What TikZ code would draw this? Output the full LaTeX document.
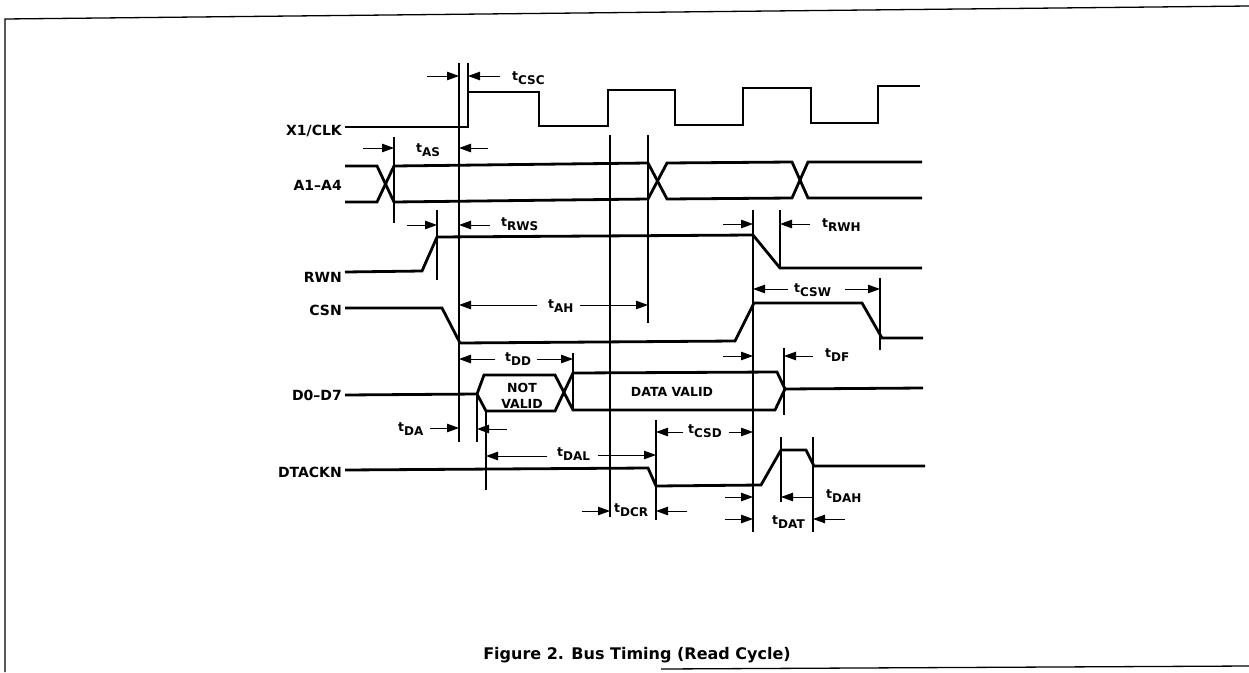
\documentclass[tikz,border=0pt]{standalone}
\usepackage{fontspec}
\setmainfont{DejaVu Sans}
\usetikzlibrary{arrows.meta}
\newcommand\tsub[1]{{\fontsize{12.5}{14}\selectfont\bfseries t}\raisebox{-4.5pt}{\fontsize{12}{13}\selectfont\bfseries #1}}
\begin{document}
\begin{tikzpicture}[x=1pt,y=-1pt,
  sig/.style={line width=2.8pt},
  refl/.style={line width=1.1pt},
  dim/.style={line width=0.9pt,-{Triangle[length=12pt,width=8.5pt]}},
  siglab/.style={anchor=base east,inner sep=0pt,font=\fontsize{14}{16}\selectfont\bfseries},
  tlab/.style={anchor=base west,inner sep=0pt},
  boxlab/.style={anchor=base,inner sep=0pt,font=\fontsize{12.5}{14}\selectfont\bfseries},
  frame/.style={line width=1.3pt}]
\useasboundingbox (0,0) rectangle (1249,672);
% frame
\draw[frame] (5,672) -- (5,19) -- (1249,6);
\draw[frame] (661,669) -- (1249,666);
% signal labels
\node[siglab] (lclk) at (342,135) {X1/CLK};
\node[siglab] (laddr) at (342,190) {A1–A4};
\node[siglab] (lrwn) at (342,282) {RWN};
\node[siglab] (lcsn) at (342,315) {CSN};
\node[siglab] (ldata) at (342,400) {D0–D7};
\node[siglab] (ldtack) at (342,477) {DTACKN};
% waveforms
\draw[sig] (345,127) -- (468,127) -- (468,92) -- (539,92) -- (539,126) -- (608,126) -- (608,90) -- (675,90) -- (675,125) -- (743,125) -- (743,88) -- (811,88) -- (811,123) -- (878,123) -- (878,86) -- (920,86);
\draw[sig] (345,166) -- (377,166) -- (394,202) -- (648,199) -- (667,163) -- (792,162) -- (808,198) -- (922,198);
\draw[sig] (345,202) -- (377,202) -- (394,166) -- (648,163) -- (667,199) -- (792,198) -- (808,162) -- (922,162);
\draw[sig] (345,272) -- (422,271) -- (437,237) -- (753,235) -- (780,268) -- (922,268);
\draw[sig] (345,308) -- (442,308) -- (460,343) -- (735,341) -- (754,303) -- (862,303) -- (882,338) -- (923,338);
\draw[sig] (345,395) -- (477,394) -- (484,375) -- (555,375) -- (573,410) -- (775,410) -- (785,389) -- (923,388);
\draw[sig] (477,394) -- (486,411) -- (555,411) -- (573,373) -- (777,372) -- (785,389);
\draw[sig] (345,470) -- (648,468) -- (656,486) -- (761,485) -- (781,450) -- (806,450) -- (814,466) -- (925,466);
% reference lines
\draw[refl] (459,63) -- (459,442);
\draw[refl] (468,63) -- (468,92);
\draw[refl] (394,137) -- (394,223);
\draw[refl] (437,210) -- (437,280);
\draw[refl] (610,135) -- (610,517);
\draw[refl] (648,135) -- (648,323);
\draw[refl] (753,210) -- (753,532);
\draw[refl] (780,210) -- (780,268);
\draw[refl] (880,278) -- (880,350);
\draw[refl] (573,353) -- (573,410);
\draw[refl] (784,348) -- (784,415);
\draw[refl] (477,396) -- (477,442);
\draw[refl] (486,411) -- (486,490);
\draw[refl] (656,420) -- (656,520);
\draw[refl] (781,437) -- (781,502);
\draw[refl] (813,437) -- (813,532);
% dimension arrows and labels
\draw[dim] (427,76) -- (459,76);
\draw[dim] (500,76) -- (468,76);
\node[tlab] (tcsc) at (512,80) {\tsub{CSC}};
\draw[dim] (363,148) -- (394,148);
\draw[dim] (488,148) -- (459,148);
\node[tlab] (tas) at (416,152) {\tsub{AS}};
\draw[dim] (407,225) -- (437,225);
\draw[dim] (490,225) -- (459,225);
\node[tlab] (trws) at (501,226) {\tsub{RWS}};
\draw[dim] (723,224) -- (753,224);
\draw[dim] (810,224) -- (780,224);
\node[tlab] (trwh) at (822,227) {\tsub{RWH}};
\draw[dim] (537,305) -- (459,305);
\draw[dim] (580,305) -- (648,305);
\node[tlab] (tah) at (548,308) {\tsub{AH}};
\draw[dim] (788,289) -- (753,289);
\draw[dim] (845,289) -- (880,289);
\node[tlab] (tcsw) at (794,292) {\tsub{CSW}};
\draw[dim] (495,359) -- (459,359);
\draw[dim] (537,359) -- (573,359);
\node[tlab] (tdd) at (505,361) {\tsub{DD}};
\draw[dim] (723,356) -- (753,356);
\draw[dim] (813,356) -- (784,356);
\node[tlab] (tdf) at (825,357) {\tsub{DF}};
\draw[dim] (430,428) -- (459,428);
\draw[dim] (507,429) -- (477,429);
\node[tlab] (tda) at (398,431) {\tsub{DA}};
\draw[dim] (547,456) -- (486,456);
\draw[dim] (598,455) -- (656,455);
\node[tlab] (tdal) at (557,456) {\tsub{DAL}};
\draw[dim] (683,432) -- (656,432);
\draw[dim] (729,432) -- (753,432);
\node[tlab] (tcsd) at (688,433) {\tsub{CSD}};
\draw[dim] (582,511) -- (610,511);
\draw[dim] (687,511) -- (656,511);
\node[tlab] (tdcr) at (614,512) {\tsub{DCR}};
\draw[dim] (725,497) -- (753,497);
\draw[dim] (813,497) -- (781,497);
\node[tlab] (tdah) at (826,498) {\tsub{DAH}};
\draw[dim] (725,519) -- (753,519);
\draw[dim] (845,519) -- (813,519);
\node[tlab] (tdat) at (772,524) {\tsub{DAT}};
% box texts
\node[boxlab] (nv1) at (522,392) {NOT};
\node[boxlab] (nv2) at (522,408) {VALID};
\node[boxlab] (dv) at (672,396) {DATA VALID};
% caption
\node[anchor=base,inner sep=0pt,font=\fontsize{16}{18}\selectfont\bfseries] (cap) at (637,659) {Figure 2. Bus Timing (Read Cycle)};
\end{tikzpicture}
\end{document}
